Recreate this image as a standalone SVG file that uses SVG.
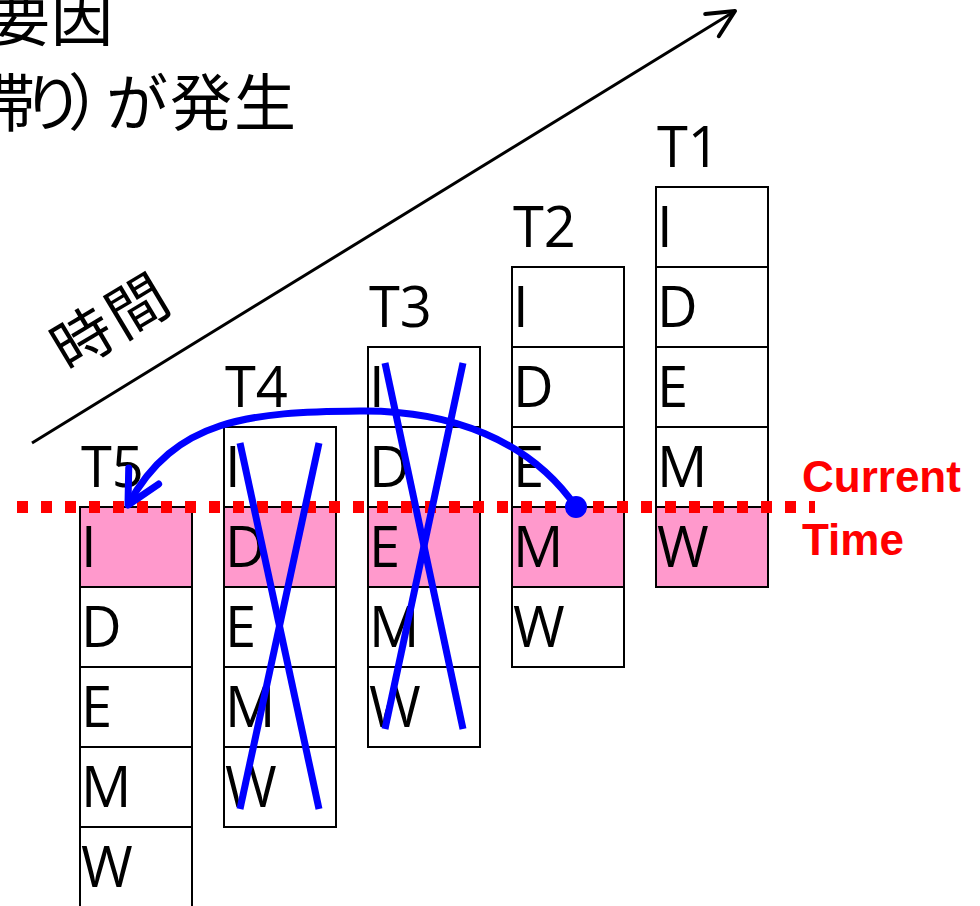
<svg xmlns="http://www.w3.org/2000/svg" width="980" height="906" viewBox="0 0 980 906">
<style>
.cell{fill:#ffffff;stroke:#000000;stroke-width:2}
.hot{fill:#ff99cc;stroke:#000000;stroke-width:2}
.lbl{font-family:"Open Sans","Liberation Sans",sans-serif;font-size:56px;fill:#000000}
.jp{font-family:"Noto Sans CJK JP","Noto Sans CJK SC",sans-serif;font-size:62px;fill:#000000}
.red{font-family:"Liberation Sans",Arial,sans-serif;font-weight:bold;font-size:44px;fill:#ff0000}
.cross{stroke:#0000ff;stroke-width:7;stroke-linecap:butt;fill:none}
</style>
<defs>
<marker id="blackHead" markerUnits="userSpaceOnUse" orient="auto" refX="0" refY="0" markerWidth="40" markerHeight="40" overflow="visible">
<path d="M-27,-13 L0,0 L-27,13" fill="none" stroke="#000000" stroke-width="4" stroke-linecap="round" stroke-linejoin="round"/>
</marker>
<marker id="blueHead" markerUnits="userSpaceOnUse" orient="auto" refX="0" refY="0" markerWidth="50" markerHeight="50" overflow="visible">
<path d="M-33,-17 L0,0 L-33,17" fill="none" stroke="#0000ff" stroke-width="7" stroke-linecap="round" stroke-linejoin="round"/>
</marker>
</defs>
<rect width="980" height="906" fill="#ffffff"/>

<g id="title">
<text class="jp" x="-12 51" y="41">要因</text>
<text class="jp" x="-27 22 68 106 170 234" y="126">滞り）が発生</text>
</g>

<g id="time-axis">
<line x1="32" y1="443" x2="735" y2="11" stroke="#000000" stroke-width="3" marker-end="url(#blackHead)"/>
<text class="jp" style="font-size:60px;letter-spacing:4px" text-anchor="middle" transform="translate(112,322) rotate(-31)" y="21">時間</text>
</g>

<g id="T5">
<text class="lbl" x="81" y="487">T5</text>
<rect class="hot" x="80" y="507" width="112" height="80"/>
<rect class="cell" x="80" y="587" width="112" height="80"/>
<rect class="cell" x="80" y="667" width="112" height="80"/>
<rect class="cell" x="80" y="747" width="112" height="80"/>
<rect class="cell" x="80" y="827" width="112" height="80"/>
<text class="lbl" x="81" y="567">I</text>
<text class="lbl" x="81" y="647">D</text>
<text class="lbl" x="81" y="727">E</text>
<text class="lbl" x="81" y="807">M</text>
<text class="lbl" x="81" y="887">W</text>
</g>

<g id="T4">
<text class="lbl" x="225" y="407">T4</text>
<rect class="cell" x="224" y="427" width="112" height="80"/>
<rect class="hot" x="224" y="507" width="112" height="80"/>
<rect class="cell" x="224" y="587" width="112" height="80"/>
<rect class="cell" x="224" y="667" width="112" height="80"/>
<rect class="cell" x="224" y="747" width="112" height="80"/>
<text class="lbl" x="225" y="487">I</text>
<text class="lbl" x="225" y="567">D</text>
<text class="lbl" x="225" y="647">E</text>
<text class="lbl" x="225" y="727">M</text>
<text class="lbl" x="225" y="807">W</text>
</g>

<g id="T3">
<text class="lbl" x="369" y="327">T3</text>
<rect class="cell" x="368" y="347" width="112" height="80"/>
<rect class="cell" x="368" y="427" width="112" height="80"/>
<rect class="hot" x="368" y="507" width="112" height="80"/>
<rect class="cell" x="368" y="587" width="112" height="80"/>
<rect class="cell" x="368" y="667" width="112" height="80"/>
<text class="lbl" x="369" y="407">I</text>
<text class="lbl" x="369" y="487">D</text>
<text class="lbl" x="369" y="567">E</text>
<text class="lbl" x="369" y="647">M</text>
<text class="lbl" x="369" y="727">W</text>
</g>

<g id="T2">
<text class="lbl" x="513" y="247">T2</text>
<rect class="cell" x="512" y="267" width="112" height="80"/>
<rect class="cell" x="512" y="347" width="112" height="80"/>
<rect class="cell" x="512" y="427" width="112" height="80"/>
<rect class="hot" x="512" y="507" width="112" height="80"/>
<rect class="cell" x="512" y="587" width="112" height="80"/>
<text class="lbl" x="513" y="327">I</text>
<text class="lbl" x="513" y="407">D</text>
<text class="lbl" x="513" y="487">E</text>
<text class="lbl" x="513" y="567">M</text>
<text class="lbl" x="513" y="647">W</text>
</g>

<g id="T1">
<text class="lbl" x="657" y="167">T1</text>
<rect class="cell" x="656" y="187" width="112" height="80"/>
<rect class="cell" x="656" y="267" width="112" height="80"/>
<rect class="cell" x="656" y="347" width="112" height="80"/>
<rect class="cell" x="656" y="427" width="112" height="80"/>
<rect class="hot" x="656" y="507" width="112" height="80"/>
<text class="lbl" x="657" y="247">I</text>
<text class="lbl" x="657" y="327">D</text>
<text class="lbl" x="657" y="407">E</text>
<text class="lbl" x="657" y="487">M</text>
<text class="lbl" x="657" y="567">W</text>
</g>

<g id="current-time">
<line x1="17" y1="507" x2="815" y2="507" stroke="#ff0000" stroke-width="12" stroke-dasharray="11 13"/>
<text class="red" x="802" y="492">Current</text>
<text class="red" x="802" y="555">Time</text>
</g>

<g id="crosses">
<line class="cross" x1="240" y1="443" x2="319" y2="809"/>
<line class="cross" x1="319" y1="443" x2="240" y2="809"/>
<line class="cross" x1="385" y1="363" x2="463" y2="729"/>
<line class="cross" x1="463" y1="363" x2="385" y2="729"/>
</g>

<g id="connectors">
<path d="M576,507 C530,440 450,410 360,411 C250,412 175,418 128,505" fill="none" stroke="#0000ff" stroke-width="7" marker-end="url(#blueHead)"/>
<circle cx="576" cy="507" r="11" fill="#0000ff"/>
</g>
</svg>
